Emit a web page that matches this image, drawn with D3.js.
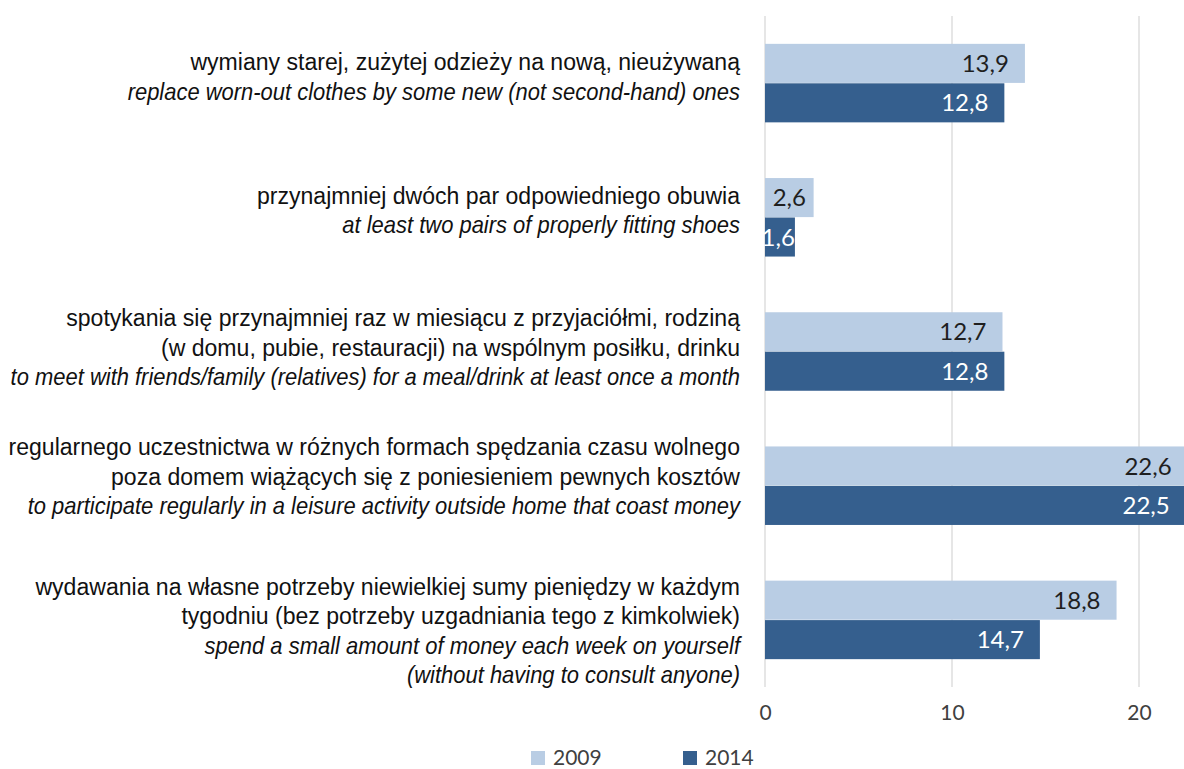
<!DOCTYPE html>
<html>
<head>
<meta charset="utf-8">
<script src="https://cdn.jsdelivr.net/npm/d3@7"></script>
<style>
  html, body { margin: 0; padding: 0; background: #fff; }
  svg { display: block; }
</style>
</head>
<body>
<svg id="chart" width="1184" height="769"></svg>
<script>
// Category labels: Polish lines (upright) followed by English lines (italic)
const labelsPL = [
  ["wymiany starej, zużytej odzieży na nową, nieużywaną"],
  ["przynajmniej dwóch par odpowiedniego obuwia"],
  ["spotykania się przynajmniej raz w miesiącu z przyjaciółmi, rodziną",
   "(w domu, pubie, restauracji) na wspólnym posiłku, drinku"],
  ["regularnego uczestnictwa w różnych formach spędzania czasu wolnego",
   "poza domem wiążących się z poniesieniem pewnych kosztów"],
  ["wydawania na własne potrzeby niewielkiej sumy pieniędzy w każdym",
   "tygodniu (bez potrzeby uzgadniania tego z kimkolwiek)"]
];
const labelsEN = [
  ["replace worn-out clothes by some new (not second-hand) ones"],
  ["at least two pairs of properly fitting shoes"],
  ["to meet with friends/family (relatives) for a meal/drink at least once a month"],
  ["to participate regularly in a leisure activity outside home that coast money"],
  ["spend a small amount of money each week on yourself",
   "(without having to consult anyone)"]
];
const seriesNames = ["2009", "2014"];
const values2009 = [13.9, 2.6, 12.7, 22.6, 18.8];
const values2014 = [12.8, 1.6, 12.8, 22.5, 14.7];
const tickValues = [0, 10, 20];

const colors = { "2009": "#b9cde4", "2014": "#355f8e" };
const labelColors = { "2009": "#1f1f1f", "2014": "#ffffff" };

const svg = d3.select("#chart");

// Plot area
const plot = { left: 765, top: 16, bottom: 687 };
const x = d3.scaleLinear().domain([0, 20]).range([plot.left, plot.left + 374]);

const cats = d3.range(labelsPL.length);
const y = d3.scaleBand().domain(cats).range([plot.top, plot.bottom]).paddingInner(0.415).paddingOuter(0.2075);
const ySub = d3.scaleBand().domain(seriesNames).range([0, y.bandwidth()]).paddingInner(0.01);

// Vertical gridlines
svg.append("g")
  .selectAll("line")
  .data(tickValues)
  .join("line")
  .attr("x1", d => x(d)).attr("x2", d => x(d))
  .attr("y1", plot.top).attr("y2", plot.bottom)
  .attr("stroke", "#d9d9d9").attr("stroke-width", 1.3);

// Axis tick labels
const xAxis = d3.axisBottom(x).tickValues(tickValues).tickSize(0).tickPadding(0).tickFormat(d3.format("d"));
const axisG = svg.append("g").attr("transform", `translate(0, 705)`).call(xAxis);
axisG.select(".domain").remove();
axisG.selectAll("text")
  .attr("font-family", "Lato, 'Open Sans', sans-serif")
  .attr("font-size", 21)
  .attr("fill", "#404040")
  .attr("dy", "0.72em");

// Bars
const rows = cats.map(i => ({ i, vals: [
  { s: "2009", v: values2009[i] },
  { s: "2014", v: values2014[i] }
]}));

const groups = svg.append("g").selectAll("g")
  .data(rows)
  .join("g")
  .attr("transform", d => `translate(0, ${y(d.i)})`);

groups.selectAll("rect")
  .data(d => d.vals)
  .join("rect")
  .attr("x", x(0))
  .attr("y", d => ySub(d.s))
  .attr("width", d => x(d.v) - x(0))
  .attr("height", ySub.bandwidth())
  .attr("fill", d => colors[d.s]);

// Value labels, inside the bar end
const fmt = v => d3.format(".1f")(v).replace(".", ",");
groups.selectAll("text.val")
  .data(d => d.vals)
  .join("text")
  .attr("class", "val")
  .attr("font-family", "Lato, 'Open Sans', sans-serif")
  .attr("font-size", 24)
  .attr("fill", d => labelColors[d.s])
  .attr("text-anchor", "end")
  .attr("y", d => ySub(d.s) + ySub.bandwidth() / 2)
  .attr("dy", "0.36em")
  .text(d => fmt(d.v))
  .each(function(d) {
    const tw = this.getComputedTextLength();
    const bw = x(d.v) - x(0);
    const pad = Math.min(16, Math.max(0, (bw - tw) / 2));
    d3.select(this).attr("x", x(d.v) - pad);
  });

// Category labels, right-aligned left of the axis
const labelRight = 740;
const lineH = 29.5;
const blockNudge = [-2, -3, 0, -5, 15];   // per-category vertical nudge of the label block
const labelG = svg.append("g");
cats.forEach(i => {
  const lines = labelsPL[i].map(t => ({ t, it: false }))
    .concat(labelsEN[i].map(t => ({ t, it: true })));
  const n = lines.length;
  const cy = y(i) + y.bandwidth() / 2 + blockNudge[i];
  lines.forEach((ln, k) => {
    labelG.append("text")
      .attr("class", ln.it ? "cat it" : "cat up")
      .attr("font-family", "'Liberation Sans', Arial, sans-serif")
      .attr("font-size", 23)
      .attr("font-style", ln.it ? "italic" : "normal")
      .attr("fill", "#111")
      .attr("text-anchor", "end")
      .attr("data-y", cy + (k - (n - 1) / 2) * lineH + 4)
      .text(ln.t);
  });
});

// Labels are set in a narrow face; condense each style so its widest
// line spans from the left margin to the axis labels
function condense(sel, startText, targetW) {
  const ref = sel.filter(function() { return this.textContent.startsWith(startText); }).node();
  const sx = targetW / ref.getComputedTextLength();
  sel.attr("transform", function() {
    return `translate(${labelRight}, ${d3.select(this).attr("data-y")}) scale(${sx}, 1)`;
  });
}
condense(labelG.selectAll("text.up"), "regularnego", 732);
condense(labelG.selectAll("text.it"), "to meet", 730);

// Legend
const legend = svg.append("g").attr("transform", "translate(531, 751)");
const legendX = { "2009": 0, "2014": 152 };
seriesNames.forEach(s => {
  const g = legend.append("g").attr("transform", `translate(${legendX[s]}, 0)`);
  g.append("rect").attr("width", 14).attr("height", 14).attr("fill", colors[s]);
  g.append("text")
    .attr("x", 22).attr("y", 14)
    .attr("font-family", "Lato, 'Open Sans', sans-serif")
    .attr("font-size", 21)
    .attr("fill", "#404040")
    .text(s);
});
</script>
</body>
</html>
